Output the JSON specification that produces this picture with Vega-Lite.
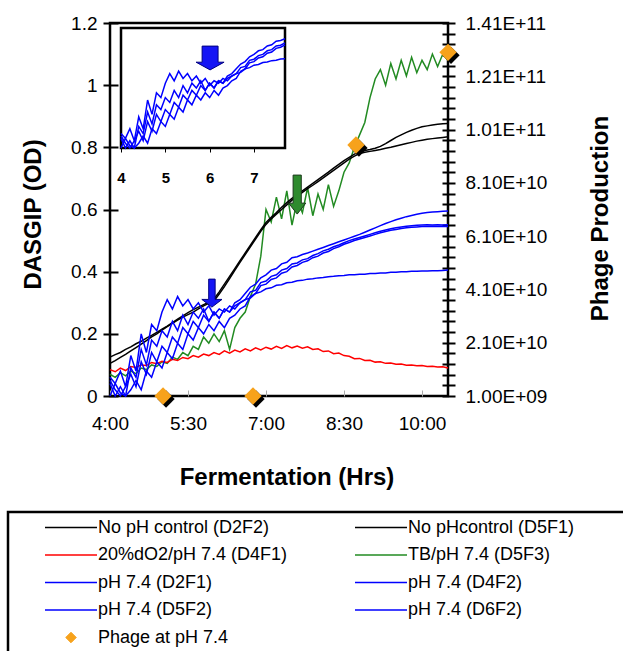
{
  "$schema": "https://vega.github.io/schema/vega-lite/v6.json",
  "width": 338,
  "height": 373,
  "autosize": "none",
  "padding": {"left": 110, "top": 23, "right": 175, "bottom": 255},
  "config": {
    "font": "Liberation Sans",
    "view": {"stroke": "#000000", "strokeWidth": 2.5},
    "axis": {"grid": false, "labelColor": "#000000", "titleColor": "#000000", "labelFont": "Liberation Sans", "titleFont": "Liberation Sans"}
  },
  "datasets": {
    "names": [
      {"key": "k1", "series": "No pH control (D2F2)"},
      {"key": "k2", "series": "No pHcontrol (D5F1)"},
      {"key": "k3", "series": "20%dO2/pH 7.4 (D4F1)"},
      {"key": "k4", "series": "TB/pH 7.4 (D5F3)"},
      {"key": "k5", "series": "pH 7.4 (D2F1)"},
      {"key": "k6", "series": "pH 7.4 (D4F2)"},
      {"key": "k7", "series": "pH 7.4 (D5F2)"},
      {"key": "k8", "series": "pH 7.4 (D6F2)"}
    ],
    "phage": [
      {"t": 5.02, "phage": 1000000000},
      {"t": 6.75, "phage": 1000000000},
      {"t": 8.73, "phage": 95200000000},
      {"t": 10.5, "phage": 130000000000}
    ],
    "marks": [
      {"name": "blue", "t": 5.96, "od": 0.331},
      {"name": "green", "t": 7.6, "od": 0.648},
      {"name": "inset", "t": 6.01, "od": 0.375}
    ],
    "curves": [
      {"t": 4.0, "k1": 0.125, "k2": 0.105, "k3": 0.085, "k4": 0.07, "k5": 0.05, "k6": 0, "k7": 0.04, "k8": 0.06},
      {"t": 4.1, "k1": 0.133, "k2": 0.114, "k3": 0.078, "k4": 0.06, "k5": 0.02, "k6": 0.04, "k7": 0, "k8": 0.04},
      {"t": 4.2, "k1": 0.14, "k2": 0.124, "k3": 0.09, "k4": 0.075, "k5": 0, "k6": 0.01, "k7": 0.03, "k8": 0.08},
      {"t": 4.3, "k1": 0.15, "k2": 0.134, "k3": 0.082, "k4": 0.065, "k5": 0.03, "k6": 0, "k7": 0, "k8": 0.03},
      {"t": 4.4, "k1": 0.158, "k2": 0.145, "k3": 0.095, "k4": 0.08, "k5": 0.07, "k6": 0.09, "k7": 0.02, "k8": 0.13},
      {"t": 4.5, "k1": 0.168, "k2": 0.156, "k3": 0.092, "k4": 0.072, "k5": 0.03, "k6": 0.06, "k7": 0.05, "k8": 0.08},
      {"t": 4.6, "k1": 0.176, "k2": 0.167, "k3": 0.1, "k4": 0.09, "k5": 0.11, "k6": 0.15, "k7": 0.02, "k8": 0.2},
      {"t": 4.7, "k1": 0.186, "k2": 0.178, "k3": 0.098, "k4": 0.085, "k5": 0.07, "k6": 0.1, "k7": 0.08, "k8": 0.14},
      {"t": 4.8, "k1": 0.195, "k2": 0.19, "k3": 0.108, "k4": 0.1, "k5": 0.14, "k6": 0.18, "k7": 0.06, "k8": 0.23},
      {"t": 4.9, "k1": 0.205, "k2": 0.2, "k3": 0.104, "k4": 0.095, "k5": 0.11, "k6": 0.16, "k7": 0.11, "k8": 0.21},
      {"t": 5.0, "k1": 0.215, "k2": 0.212, "k3": 0.112, "k4": 0.11, "k5": 0.16, "k6": 0.21, "k7": 0.09, "k8": 0.27},
      {"t": 5.1, "k1": 0.225, "k2": 0.223, "k3": 0.108, "k4": 0.105, "k5": 0.14, "k6": 0.19, "k7": 0.14, "k8": 0.31},
      {"t": 5.2, "k1": 0.236, "k2": 0.234, "k3": 0.118, "k4": 0.125, "k5": 0.19, "k6": 0.24, "k7": 0.12, "k8": 0.28},
      {"t": 5.3, "k1": 0.247, "k2": 0.244, "k3": 0.114, "k4": 0.118, "k5": 0.17, "k6": 0.21, "k7": 0.17, "k8": 0.32},
      {"t": 5.4, "k1": 0.258, "k2": 0.254, "k3": 0.124, "k4": 0.14, "k5": 0.22, "k6": 0.26, "k7": 0.15, "k8": 0.29},
      {"t": 5.5, "k1": 0.268, "k2": 0.262, "k3": 0.12, "k4": 0.13, "k5": 0.2, "k6": 0.23, "k7": 0.2, "k8": 0.31},
      {"t": 5.6, "k1": 0.278, "k2": 0.27, "k3": 0.13, "k4": 0.16, "k5": 0.24, "k6": 0.27, "k7": 0.18, "k8": 0.28},
      {"t": 5.7, "k1": 0.286, "k2": 0.28, "k3": 0.125, "k4": 0.15, "k5": 0.22, "k6": 0.25, "k7": 0.22, "k8": 0.3},
      {"t": 5.8, "k1": 0.294, "k2": 0.29, "k3": 0.135, "k4": 0.19, "k5": 0.26, "k6": 0.28, "k7": 0.2, "k8": 0.27},
      {"t": 5.9, "k1": 0.302, "k2": 0.298, "k3": 0.13, "k4": 0.17, "k5": 0.24, "k6": 0.24, "k7": 0.23, "k8": 0.29},
      {"t": 6.0, "k1": 0.312, "k2": 0.306, "k3": 0.14, "k4": 0.2, "k5": 0.27, "k6": 0.27, "k7": 0.21, "k8": 0.26},
      {"t": 6.1, "k1": 0.335, "k2": 0.328, "k3": 0.134, "k4": 0.175, "k5": 0.25, "k6": 0.25, "k7": 0.24, "k8": 0.28},
      {"t": 6.2, "k1": 0.36, "k2": 0.352, "k3": 0.145, "k4": 0.21, "k5": 0.28, "k6": 0.28, "k7": 0.22, "k8": 0.27},
      {"t": 6.3, "k1": 0.385, "k2": 0.378, "k3": 0.138, "k4": 0.15, "k5": 0.27, "k6": 0.27, "k7": 0.25, "k8": 0.29},
      {"t": 6.4, "k1": 0.41, "k2": 0.404, "k3": 0.148, "k4": 0.22, "k5": 0.3, "k6": 0.29, "k7": 0.26, "k8": 0.28},
      {"t": 6.5, "k1": 0.435, "k2": 0.43, "k3": 0.142, "k4": 0.25, "k5": 0.31, "k6": 0.3, "k7": 0.28, "k8": 0.3},
      {"t": 6.6, "k1": 0.46, "k2": 0.455, "k3": 0.152, "k4": 0.27, "k5": 0.33, "k6": 0.31, "k7": 0.29, "k8": 0.31},
      {"t": 6.7, "k1": 0.485, "k2": 0.48, "k3": 0.145, "k4": 0.32, "k5": 0.35, "k6": 0.335, "k7": 0.32, "k8": 0.315},
      {"t": 6.8, "k1": 0.51, "k2": 0.505, "k3": 0.155, "k4": 0.36, "k5": 0.36, "k6": 0.34, "k7": 0.33, "k8": 0.33},
      {"t": 6.9, "k1": 0.535, "k2": 0.53, "k3": 0.148, "k4": 0.45, "k5": 0.38, "k6": 0.365, "k7": 0.355, "k8": 0.335},
      {"t": 7.0, "k1": 0.558, "k2": 0.552, "k3": 0.157, "k4": 0.6, "k5": 0.39, "k6": 0.37, "k7": 0.36, "k8": 0.345},
      {"t": 7.1, "k1": 0.575, "k2": 0.57, "k3": 0.151, "k4": 0.56, "k5": 0.405, "k6": 0.385, "k7": 0.375, "k8": 0.348},
      {"t": 7.2, "k1": 0.59, "k2": 0.585, "k3": 0.16, "k4": 0.64, "k5": 0.41, "k6": 0.39, "k7": 0.38, "k8": 0.356},
      {"t": 7.3, "k1": 0.607, "k2": 0.6, "k3": 0.153, "k4": 0.57, "k5": 0.425, "k6": 0.405, "k7": 0.395, "k8": 0.358},
      {"t": 7.4, "k1": 0.622, "k2": 0.615, "k3": 0.162, "k4": 0.66, "k5": 0.43, "k6": 0.41, "k7": 0.4, "k8": 0.364},
      {"t": 7.5, "k1": 0.636, "k2": 0.63, "k3": 0.155, "k4": 0.55, "k5": 0.445, "k6": 0.425, "k7": 0.415, "k8": 0.366},
      {"t": 7.6, "k1": 0.648, "k2": 0.642, "k3": 0.161, "k4": 0.63, "k5": 0.448, "k6": 0.428, "k7": 0.42, "k8": 0.371},
      {"t": 7.7, "k1": 0.66, "k2": 0.655, "k3": 0.154, "k4": 0.59, "k5": 0.455, "k6": 0.438, "k7": 0.43, "k8": 0.372},
      {"t": 7.8, "k1": 0.672, "k2": 0.667, "k3": 0.158, "k4": 0.67, "k5": 0.46, "k6": 0.442, "k7": 0.435, "k8": 0.376},
      {"t": 7.9, "k1": 0.684, "k2": 0.678, "k3": 0.15, "k4": 0.58, "k5": 0.466, "k6": 0.452, "k7": 0.445, "k8": 0.377},
      {"t": 8.0, "k1": 0.696, "k2": 0.69, "k3": 0.152, "k4": 0.65, "k5": 0.472, "k6": 0.458, "k7": 0.45, "k8": 0.38},
      {"t": 8.1, "k1": 0.708, "k2": 0.702, "k3": 0.143, "k4": 0.6, "k5": 0.478, "k6": 0.467, "k7": 0.46, "k8": 0.381},
      {"t": 8.2, "k1": 0.72, "k2": 0.714, "k3": 0.145, "k4": 0.68, "k5": 0.484, "k6": 0.472, "k7": 0.465, "k8": 0.384},
      {"t": 8.3, "k1": 0.733, "k2": 0.726, "k3": 0.136, "k4": 0.61, "k5": 0.49, "k6": 0.48, "k7": 0.474, "k8": 0.385},
      {"t": 8.4, "k1": 0.745, "k2": 0.738, "k3": 0.138, "k4": 0.66, "k5": 0.496, "k6": 0.486, "k7": 0.48, "k8": 0.387},
      {"t": 8.5, "k1": 0.757, "k2": 0.75, "k3": 0.13, "k4": 0.72, "k5": 0.502, "k6": 0.493, "k7": 0.488, "k8": 0.388},
      {"t": 8.6, "k1": 0.768, "k2": 0.762, "k3": 0.128, "k4": 0.75, "k5": 0.508, "k6": 0.5, "k7": 0.494, "k8": 0.39},
      {"t": 8.7, "k1": 0.778, "k2": 0.772, "k3": 0.12, "k4": 0.8, "k5": 0.514, "k6": 0.505, "k7": 0.5, "k8": 0.39},
      {"t": 8.8, "k1": 0.786, "k2": 0.78, "k3": 0.121, "k4": 0.84, "k5": 0.52, "k6": 0.51, "k7": 0.505, "k8": 0.392},
      {"t": 8.9, "k1": 0.79, "k2": 0.784, "k3": 0.114, "k4": 0.88, "k5": 0.527, "k6": 0.515, "k7": 0.51, "k8": 0.392},
      {"t": 9.0, "k1": 0.793, "k2": 0.787, "k3": 0.115, "k4": 0.96, "k5": 0.534, "k6": 0.52, "k7": 0.515, "k8": 0.394},
      {"t": 9.1, "k1": 0.797, "k2": 0.79, "k3": 0.109, "k4": 1.02, "k5": 0.541, "k6": 0.525, "k7": 0.52, "k8": 0.394},
      {"t": 9.2, "k1": 0.803, "k2": 0.793, "k3": 0.11, "k4": 1.05, "k5": 0.548, "k6": 0.53, "k7": 0.525, "k8": 0.396},
      {"t": 9.3, "k1": 0.812, "k2": 0.797, "k3": 0.105, "k4": 1.0, "k5": 0.555, "k6": 0.534, "k7": 0.529, "k8": 0.396},
      {"t": 9.4, "k1": 0.822, "k2": 0.8, "k3": 0.106, "k4": 1.07, "k5": 0.561, "k6": 0.538, "k7": 0.533, "k8": 0.398},
      {"t": 9.5, "k1": 0.832, "k2": 0.804, "k3": 0.102, "k4": 1.02, "k5": 0.567, "k6": 0.541, "k7": 0.536, "k8": 0.398},
      {"t": 9.6, "k1": 0.84, "k2": 0.808, "k3": 0.103, "k4": 1.08, "k5": 0.572, "k6": 0.544, "k7": 0.539, "k8": 0.4},
      {"t": 9.7, "k1": 0.848, "k2": 0.812, "k3": 0.099, "k4": 1.03, "k5": 0.577, "k6": 0.546, "k7": 0.541, "k8": 0.4},
      {"t": 9.8, "k1": 0.855, "k2": 0.816, "k3": 0.1, "k4": 1.09, "k5": 0.581, "k6": 0.548, "k7": 0.543, "k8": 0.401},
      {"t": 9.9, "k1": 0.861, "k2": 0.82, "k3": 0.097, "k4": 1.04, "k5": 0.585, "k6": 0.549, "k7": 0.544, "k8": 0.401},
      {"t": 10.0, "k1": 0.866, "k2": 0.823, "k3": 0.098, "k4": 1.08, "k5": 0.588, "k6": 0.55, "k7": 0.545, "k8": 0.402},
      {"t": 10.1, "k1": 0.869, "k2": 0.826, "k3": 0.095, "k4": 1.05, "k5": 0.59, "k6": 0.551, "k7": 0.545, "k8": 0.402},
      {"t": 10.2, "k1": 0.872, "k2": 0.828, "k3": 0.096, "k4": 1.1, "k5": 0.592, "k6": 0.55, "k7": 0.546, "k8": 0.403},
      {"t": 10.3, "k1": 0.874, "k2": 0.83, "k3": 0.093, "k4": 1.06, "k5": 0.593, "k6": 0.551, "k7": 0.545, "k8": 0.403},
      {"t": 10.4, "k1": 0.876, "k2": 0.832, "k3": 0.094, "k4": 1.1, "k5": 0.594, "k6": 0.55, "k7": 0.546, "k8": 0.404},
      {"t": 10.5, "k1": 0.877, "k2": 0.834, "k3": 0.09, "k4": 1.08, "k5": 0.595, "k6": 0.551, "k7": 0.545, "k8": 0.405}
    ]
  },
  "resolve": {"scale": {"x": "independent", "y": "independent"}},
  "layer": [
    {
      "data": {"name": "curves"},
      "transform": [
        {"fold": ["k4", "k3", "k1", "k2", "k5", "k6", "k7", "k8"], "as": ["key", "od"]},
        {"lookup": "key", "from": {"data": {"name": "names"}, "key": "key", "fields": ["series"]}}
      ],
      "mark": {"type": "line", "strokeWidth": 1.5},
      "encoding": {
        "x": {
          "field": "t", "type": "quantitative",
          "scale": {"domain": [4, 10.5], "nice": false, "zero": false},
          "axis": {
            "orient": "bottom", "values": [4, 5.5, 7, 8.5, 10],
            "labelExpr": "floor(datum.value) + ':' + (datum.value % 1 ? '30' : '00')",
            "domain": false, "offset": -6, "tickSize": 6, "tickColor": "#aaaaaa", "tickWidth": 1,
            "labelPadding": 18, "labelFontSize": 19, "labelFlush": false, "labelOverlap": false,
            "title": "Fermentation (Hrs)", "titleFontSize": 24, "titleFontWeight": "bold",
            "titleX": 176.5, "titleY": 87, "titleBaseline": "middle", "titleAlign": "center"
          }
        },
        "y": {
          "field": "od", "type": "quantitative",
          "scale": {"domain": [0, 1.2], "nice": false, "zero": false},
          "axis": {
            "orient": "left", "values": [0, 0.2, 0.4, 0.6, 0.8, 1, 1.2], "format": "~g",
            "domain": false, "offset": -8, "tickSize": 15, "tickColor": "#000000", "tickWidth": 2,
            "labelPadding": 6, "labelFontSize": 19, "labelFlush": false, "labelOverlap": false,
            "title": "DASGIP (OD)", "titleFontSize": 24, "titleFontWeight": "bold",
            "titleX": -85, "titleY": 191, "titleAngle": -90, "titleBaseline": "middle", "titleAlign": "center"
          }
        },
        "color": {
          "field": "series", "type": "nominal",
          "scale": {
            "domain": ["No pH control (D2F2)", "No pHcontrol (D5F1)", "20%dO2/pH 7.4 (D4F1)", "TB/pH 7.4 (D5F3)", "pH 7.4 (D2F1)", "pH 7.4 (D4F2)", "pH 7.4 (D5F2)", "pH 7.4 (D6F2)", "Phage at pH 7.4"],
            "range": ["#000000", "#000000", "#FF0000", "#228B22", "#0000FF", "#0000FF", "#0000FF", "#0000FF", "#F7A21B"]
          },
          "legend": {
            "orient": "none", "legendX": -102, "legendY": 489, "columns": 2, "direction": "horizontal",
            "title": " ", "titleOrient": "right", "titlePadding": 100,
            "padding": 6, "strokeColor": "#000000",
            "symbolType": "stroke", "symbolSize": 2704, "symbolStrokeWidth": 1.5, "symbolOffset": 48,
            "labelOffset": 18, "labelFontSize": 18, "labelLimit": 400, "labelColor": "#000000",
            "clipHeight": 19, "rowPadding": 8.5, "columnPadding": 36,
            "encode": {
              "legend": {"update": {"strokeWidth": {"value": 2.5}}},
              "symbols": {"update": {
                "shape": {"signal": "datum.label === 'Phage at pH 7.4' ? 'diamond' : 'stroke'"},
                "size": {"signal": "datum.label === 'Phage at pH 7.4' ? 110 : 2704"},
                "fill": {"signal": "datum.label === 'Phage at pH 7.4' ? '#F7A21B' : 'transparent'"},
                "stroke": {"signal": "datum.label === 'Phage at pH 7.4' ? '#5a3a00' : scale('color', datum.value)"},
                "strokeWidth": {"signal": "datum.label === 'Phage at pH 7.4' ? 1 : 1.5"}
              }}
            }
          }
        }
      }
    },
    {
      "data": {"name": "marks"},
      "encoding": {
        "x": {"field": "t", "type": "quantitative", "scale": {"domain": [4, 10.5], "nice": false, "zero": false}, "axis": null},
        "y": {"field": "od", "type": "quantitative", "scale": {"domain": [0, 1.2], "nice": false, "zero": false}, "axis": null}
      },
      "layer": [
        {
          "transform": [{"filter": "datum.name === 'blue'"}],
          "mark": {"type": "point", "shape": "M-0.23,-1L0.23,-1L0.23,0.45L0.72,0.45L0,1L-0.72,0.45L-0.23,0.45Z", "size": 784, "filled": true, "fill": "#1515F5", "stroke": "#000080", "strokeWidth": 1, "opacity": 1}
        },
        {
          "transform": [{"filter": "datum.name === 'green'"}],
          "mark": {"type": "point", "shape": "M-0.21,-1L0.21,-1L0.21,0.44L0.44,0.44L0,1L-0.44,0.44L-0.21,0.44Z", "size": 1521, "filled": true, "fill": "#2E8B2E", "stroke": "#1E3A1E", "strokeWidth": 1, "opacity": 1}
        }
      ]
    },
    {
      "data": {"name": "phage"},
      "encoding": {
        "x": {"field": "t", "type": "quantitative", "scale": {"domain": [4, 10.5], "nice": false, "zero": false}, "axis": null},
        "y": {
          "field": "phage", "type": "quantitative",
          "scale": {"domain": [1000000000, 141000000000], "nice": false, "zero": false},
          "axis": {
            "orient": "right",
            "values": [1000000000, 5000000000, 9000000000, 13000000000, 17000000000, 21000000000, 25000000000, 29000000000, 33000000000, 37000000000, 41000000000, 45000000000, 49000000000, 53000000000, 57000000000, 61000000000, 65000000000, 69000000000, 73000000000, 77000000000, 81000000000, 85000000000, 89000000000, 93000000000, 97000000000, 101000000000, 105000000000, 109000000000, 113000000000, 117000000000, 121000000000, 125000000000, 129000000000, 133000000000, 137000000000, 141000000000],
            "labelExpr": "(datum.value - 1000000000) % 20000000000 === 0 ? replace(replace(format(datum.value, '.2e'), 'e+9', 'E+09'), 'e+', 'E+') : ''",
            "domain": false, "offset": -6, "tickSize": 13, "tickColor": "#000000", "tickWidth": 2,
            "labelPadding": 10, "labelFontSize": 19, "labelFlush": false, "labelOverlap": false,
            "title": "Phage Production", "titleFontSize": 24, "titleFontWeight": "bold",
            "titleX": 158, "titleY": 195, "titleAngle": 270, "titleBaseline": "middle", "titleAlign": "center"
          }
        }
      },
      "layer": [
        {"mark": {"type": "point", "shape": "diamond", "size": 300, "filled": true, "fill": "#000000", "strokeWidth": 0, "xOffset": 3, "yOffset": 3, "opacity": 1}},
        {"mark": {"type": "point", "shape": "diamond", "size": 300, "filled": true, "fill": "#F7A21B", "strokeWidth": 0, "opacity": 1}}
      ]
    },
    {
      "layer": [
        {
          "data": {"values": [{}]},
          "mark": {"type": "rect", "fill": "#FFFFFF", "stroke": "#000000", "strokeWidth": 2.5},
          "encoding": {
            "x": {"datum": 4, "type": "quantitative", "scale": {"domain": [4, 7.7], "range": [11, 175], "nice": false, "zero": false},
              "axis": {"orient": "bottom", "values": [4, 5, 6, 7], "format": "d", "domain": false, "offset": -248, "tickSize": 4, "tickColor": "#000000", "tickWidth": 1, "labelPadding": 18, "labelFontSize": 15, "labelFontWeight": "bold", "labelFlush": false, "title": null}},
            "x2": {"datum": 7.7},
            "y": {"datum": 0, "type": "quantitative", "scale": {"domain": [0, 0.5], "range": [125, 5], "nice": false, "zero": false}, "axis": null},
            "y2": {"datum": 0.5}
          }
        },
        {
          "data": {"name": "curves"},
          "transform": [
            {"filter": "datum.t <= 7.7"},
            {"fold": ["k5", "k6", "k7", "k8"], "as": ["key", "od"]}
          ],
          "mark": {"type": "line", "color": "#0000FF", "strokeWidth": 1.5},
          "encoding": {
            "x": {"field": "t", "type": "quantitative", "scale": {"domain": [4, 7.7], "range": [11, 175], "nice": false, "zero": false},
              "axis": {"orient": "bottom", "values": [4, 5, 6, 7], "format": "d", "domain": false, "offset": -248, "tickSize": 4, "tickColor": "#000000", "tickWidth": 1, "labelPadding": 18, "labelFontSize": 15, "labelFontWeight": "bold", "labelFlush": false, "title": null}},
            "y": {"field": "od", "type": "quantitative", "scale": {"domain": [0, 0.5], "range": [125, 5], "nice": false, "zero": false}, "axis": null},
            "detail": {"field": "key", "type": "nominal"}
          }
        },
        {
          "data": {"name": "marks"},
          "transform": [{"filter": "datum.name === 'inset'"}],
          "mark": {"type": "point", "shape": "M-0.57,-0.85L0.57,-0.85L0.57,0.3L1,0.3L0,0.85L-1,0.3L-0.57,0.3Z", "size": 784, "filled": true, "fill": "#1515F5", "stroke": "#000080", "strokeWidth": 1, "opacity": 1},
          "encoding": {
            "x": {"field": "t", "type": "quantitative", "scale": {"domain": [4, 7.7], "range": [11, 175], "nice": false, "zero": false},
              "axis": {"orient": "bottom", "values": [4, 5, 6, 7], "format": "d", "domain": false, "offset": -248, "tickSize": 4, "tickColor": "#000000", "tickWidth": 1, "labelPadding": 18, "labelFontSize": 15, "labelFontWeight": "bold", "labelFlush": false, "title": null}},
            "y": {"field": "od", "type": "quantitative", "scale": {"domain": [0, 0.5], "range": [125, 5], "nice": false, "zero": false}, "axis": null}
          }
        }
      ]
    }
  ]
}
